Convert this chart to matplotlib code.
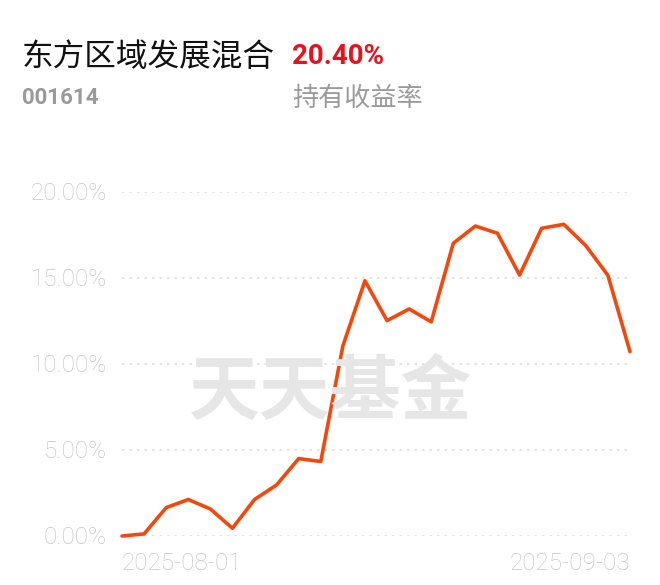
import matplotlib
matplotlib.use("Agg")
import matplotlib.pyplot as plt
import pandas as pd

plt.rcParams['font.family'] = ['Noto Sans CJK SC', 'DejaVu Sans']

# --- data ---
dates = pd.bdate_range("2025-08-01", "2025-09-03").strftime("%Y-%m-%d").tolist()
returns = [0.0, 0.12, 1.65, 2.12, 1.57, 0.45, 2.12, 2.97, 4.5, 4.33,
           11.05, 14.84, 12.52, 13.2, 12.45, 17.02, 18.02, 17.6,
           15.17, 17.89, 18.12, 16.88, 15.15, 10.72]
y_ticks = [0, 5, 10, 15, 20]
y_tick_labels = ["0.00%", "5.00%", "10.00%", "15.00%", "20.00%"]

fund_name = "东方区域发展混合"
fund_code = "001614"
total_return = "20.40%"
return_label = "持有收益率"
watermark = "天天基金"

W, H = 660, 585
fig = plt.figure(figsize=(W / 100, H / 100), dpi=100)
ax = fig.add_axes([122 / W, 1 - 536 / H, 508 / W, 344 / H])

x = list(range(len(dates)))

# dotted grid
for t in y_ticks:
    ax.axhline(t, color="#dedede", linestyle=(0, (1.5, 3)), linewidth=1.2, zorder=1)

ax.plot(x, returns, color="#f2480c", linewidth=2.6, solid_joinstyle="round",
        solid_capstyle="round", zorder=3, clip_on=False)

ax.set_xlim(0, len(dates) - 1)
ax.set_ylim(0, 20)
ax.set_yticks([])
ax.set_xticks([])
for s in ax.spines.values():
    s.set_visible(False)
ax.patch.set_alpha(0)

tick_font = dict(fontsize=17.5, color="#c6c6c6", family=["Roboto", "DejaVu Sans"],
                 fontweight="light")

# y labels
for t, lab in zip(y_ticks, y_tick_labels):
    ax.text(-0.68, t - 0.1, lab, ha="right", va="center", **tick_font)

# x labels: first and last date
ax.text(0, -1.6, dates[0], ha="left", va="center", **tick_font)
ax.text(len(dates) - 1, -1.6, dates[-1], ha="right", va="center", **tick_font)

# watermark
fig.text(331 / W, 1 - 393 / H, watermark, ha="center", va="center", fontsize=51,
         color="#e6e6e6", fontweight="bold", zorder=0)

# header
fig.text(22 / W, 1 - 57 / H, fund_name, ha="left", va="center", fontsize=22.8, color="#111111")
fig.text(292 / W, 1 - 57 / H, total_return, ha="left", va="center", fontsize=20,
         color="#e8121c", fontweight="bold", family=["Roboto", "DejaVu Sans"])
fig.text(22 / W, 1 - 98 / H, fund_code, ha="left", va="center", fontsize=16,
         color="#9a9a9a", fontweight="bold", family=["Roboto", "DejaVu Sans"])
fig.text(292 / W, 1 - 98 / H, return_label, ha="left", va="center", fontsize=18.8,
         color="#9a9a9a")

fig.savefig("out.png", dpi=100, facecolor="white")
